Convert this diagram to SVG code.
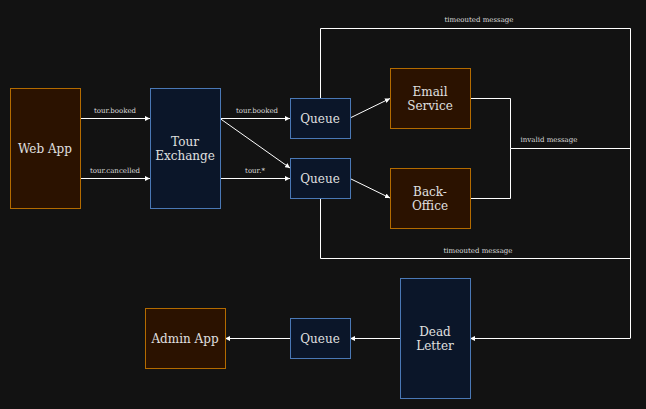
<svg xmlns="http://www.w3.org/2000/svg" width="646" height="409" viewBox="0 0 646 409">
<defs>
<marker id="ah" viewBox="0 0 10 10" refX="10" refY="5" markerWidth="5" markerHeight="5" orient="auto" markerUnits="userSpaceOnUse">
<path d="M0,0 L10,5 L0,10 z" fill="#ffffff"/>
</marker>
</defs>
<style>
.app{fill:#2b1200;stroke:#b36b00;stroke-width:1}
.q{fill:#0b1629;stroke:#4a78b5;stroke-width:1}
.t{font-family:"DejaVu Serif","Liberation Serif",serif;font-size:12px;fill:#e0e0e0;text-anchor:middle}
.l{font-family:"DejaVu Serif","Liberation Serif",serif;font-size:7px;fill:#dddddd;text-anchor:middle}
.c{fill:none;stroke:#ffffff;stroke-width:1}
.a{marker-end:url(#ah)}
</style>
<rect width="646" height="409" fill="#121212"/>
<g id="connectors">
<line class="c a" x1="80" y1="118.5" x2="150" y2="118.5"/>
<line class="c a" x1="80" y1="178.5" x2="150" y2="178.5"/>
<line class="c a" x1="220" y1="118.5" x2="290" y2="118.5"/>
<line class="c a" x1="220" y1="118.5" x2="290" y2="168"/>
<line class="c a" x1="220" y1="178.5" x2="290" y2="178.5"/>
<line class="c a" x1="350" y1="118" x2="390" y2="98.5"/>
<line class="c a" x1="350" y1="178.5" x2="390" y2="198"/>
<polyline class="c" points="470,98.5 510.5,98.5 510.5,148.5 630,148.5"/>
<polyline class="c" points="470,198.5 510.5,198.5 510.5,148.5"/>
<polyline class="c" points="320.5,98 320.5,28.5 630.5,28.5 630.5,338.5"/>
<polyline class="c" points="320.5,198 320.5,258.5 630.5,258.5"/>
<line class="c a" x1="630" y1="338.5" x2="470" y2="338.5"/>
<line class="c a" x1="400" y1="338.5" x2="350" y2="338.5"/>
<line class="c a" x1="290" y1="338.5" x2="225" y2="338.5"/>
<text class="l" x="115" y="113">tour.booked</text>
<text class="l" x="115" y="173">tour.cancelled</text>
<text class="l" x="257" y="113">tour.booked</text>
<text class="l" x="255" y="173">tour.*</text>
<text class="l" x="479" y="22">timeouted message</text>
<text class="l" x="549" y="142">invalid message</text>
<text class="l" x="478" y="253">timeouted message</text>
</g>
<g id="webapp"><rect class="app" x="10.5" y="88.5" width="70" height="120"/><text class="t" x="45" y="153">Web App</text></g>
<g id="tourexchange"><rect class="q" x="150.5" y="88.5" width="70" height="120"/><text class="t" x="185" y="146">Tour</text><text class="t" x="185" y="160">Exchange</text></g>
<g id="queue1"><rect class="q" x="290.5" y="98.5" width="60" height="40"/><text class="t" x="320" y="123">Queue</text></g>
<g id="queue2"><rect class="q" x="290.5" y="158.5" width="60" height="40"/><text class="t" x="320" y="183">Queue</text></g>
<g id="email"><rect class="app" x="390.5" y="68.5" width="80" height="60"/><text class="t" x="430" y="96">Email</text><text class="t" x="430" y="110">Service</text></g>
<g id="backoffice"><rect class="app" x="390.5" y="168.5" width="80" height="60"/><text class="t" x="430" y="196">Back-</text><text class="t" x="430" y="210">Office</text></g>
<g id="deadletter"><rect class="q" x="400.5" y="278.5" width="70" height="120"/><text class="t" x="435" y="336">Dead</text><text class="t" x="435" y="350">Letter</text></g>
<g id="queue3"><rect class="q" x="290.5" y="318.5" width="60" height="40"/><text class="t" x="320" y="343">Queue</text></g>
<g id="adminapp"><rect class="app" x="145.5" y="308.5" width="80" height="60"/><text class="t" x="185" y="343">Admin App</text></g>
</svg>
